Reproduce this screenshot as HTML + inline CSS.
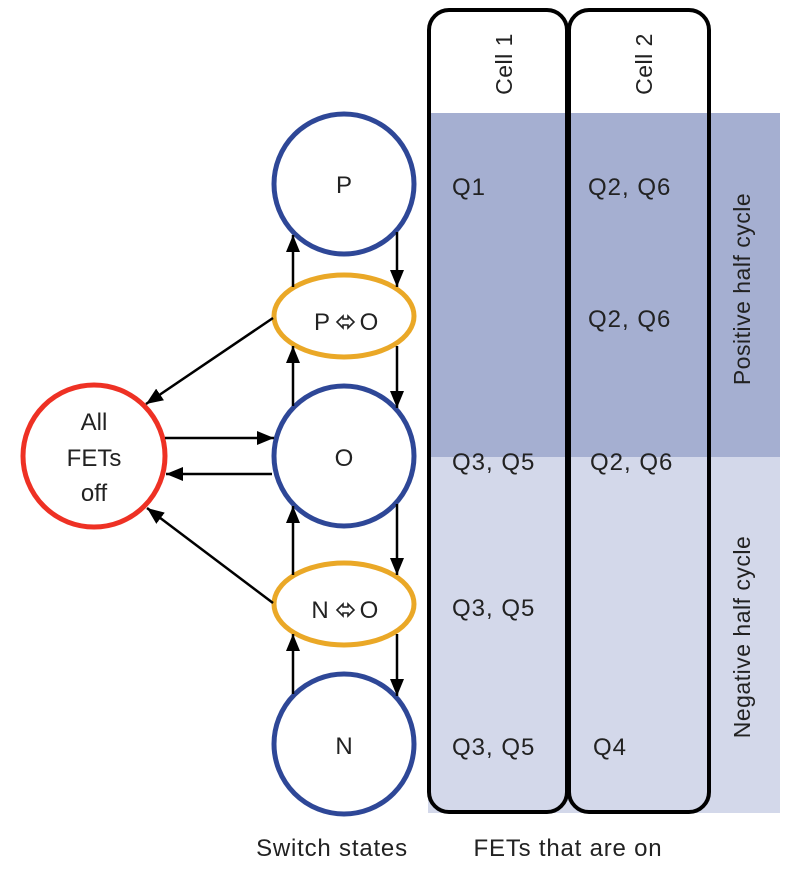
<!DOCTYPE html>
<html><head><meta charset="utf-8"><style>
body{margin:0;background:#fff}
svg{display:block}
text{font-family:"Liberation Sans","DejaVu Sans",sans-serif;fill:#222}
</style></head><body>
<svg width="800" height="869" viewBox="0 0 800 869" xmlns="http://www.w3.org/2000/svg">
<defs>
<marker id="b" markerWidth="18" markerHeight="16" refX="17" refY="8" orient="auto" markerUnits="userSpaceOnUse"><path d="M0,1 L17,8 L0,15 z" fill="#000"/></marker></defs>
<rect x="428" y="113" width="352" height="344" fill="#a5afd1"/>
<rect x="428" y="457" width="352" height="356" fill="#d3d8ea"/>
<rect x="429" y="10" width="138" height="802" rx="20" fill="none" stroke="#000" stroke-width="4"/>
<rect x="569" y="10" width="140" height="802" rx="20" fill="none" stroke="#000" stroke-width="4"/>
<g font-size="23" letter-spacing="0.5">
<text transform="translate(512,64) rotate(-90)" text-anchor="middle">Cell 1</text>
<text transform="translate(652,64) rotate(-90)" text-anchor="middle">Cell 2</text>
<text transform="translate(750,289) rotate(-90)" text-anchor="middle">Positive half cycle</text>
<text transform="translate(750,637) rotate(-90)" text-anchor="middle">Negative half cycle</text>
</g>
<g font-size="24" letter-spacing="1">
<text x="452" y="195">Q1</text>
<text x="588" y="195">Q2, Q6</text>
<text x="588" y="327">Q2, Q6</text>
<text x="452" y="470">Q3, Q5</text>
<text x="590" y="470">Q2, Q6</text>
<text x="452" y="616">Q3, Q5</text>
<text x="452" y="755">Q3, Q5</text>
<text x="593" y="755">Q4</text>
</g>
<g fill="#fff" stroke-width="5">
<circle cx="344" cy="184" r="70" stroke="#2e4797"/>
<circle cx="344" cy="456" r="70" stroke="#2e4797"/>
<circle cx="344" cy="744" r="70" stroke="#2e4797"/>
<circle cx="94" cy="456" r="71" stroke="#ee3124"/>
<ellipse cx="344" cy="316" rx="70" ry="41" stroke="#eaa827"/>
<ellipse cx="344" cy="604" rx="70" ry="41" stroke="#eaa827"/>
</g>
<g stroke="#000" stroke-width="2.5" fill="none">
<line x1="293" y1="287" x2="293" y2="235" marker-end="url(#b)"/>
<line x1="397" y1="232" x2="397" y2="287" marker-end="url(#b)"/>
<line x1="293" y1="406" x2="293" y2="346" marker-end="url(#b)"/>
<line x1="397" y1="346" x2="397" y2="408" marker-end="url(#b)"/>
<line x1="293" y1="575" x2="293" y2="506" marker-end="url(#b)"/>
<line x1="397" y1="504" x2="397" y2="575" marker-end="url(#b)"/>
<line x1="293" y1="694" x2="293" y2="634" marker-end="url(#b)"/>
<line x1="397" y1="634" x2="397" y2="696" marker-end="url(#b)"/>
<line x1="165" y1="438" x2="274" y2="438" marker-end="url(#b)"/>
<line x1="272" y1="474" x2="166" y2="474" marker-end="url(#b)"/>
<line x1="273" y1="318" x2="146" y2="404" marker-end="url(#b)"/>
<line x1="273" y1="603" x2="147" y2="508" marker-end="url(#b)"/>
</g>
<g fill="none" stroke="#222" stroke-width="1.6">
<path d="M337,322 l6,-6 v3 h5 v-3 l6,6 l-6,6 v-3 h-5 v3 z"/>
<path d="M337,610 l6,-6 v3 h5 v-3 l6,6 l-6,6 v-3 h-5 v3 z"/>
</g>
<g font-size="24" text-anchor="middle">
<text x="344" y="193">P</text>
<text x="344" y="466">O</text>
<text x="344" y="754">N</text>
<text x="322" y="330">P</text>
<text x="369" y="330">O</text>
<text x="320" y="618">N</text>
<text x="369" y="618">O</text>
<text x="94" y="430">All</text>
<text x="94" y="466">FETs</text>
<text x="94" y="501">off</text>
<text x="332" y="856" letter-spacing="0.8">Switch states</text>
<text x="568" y="856" letter-spacing="0.8">FETs that are on</text>
</g>
</svg>
</body></html>
